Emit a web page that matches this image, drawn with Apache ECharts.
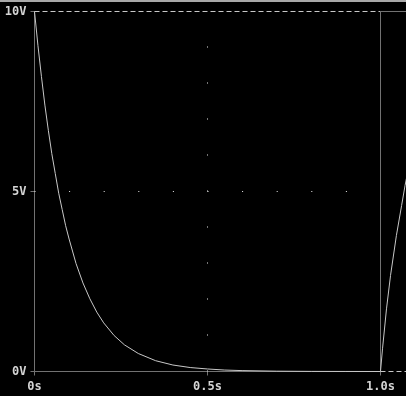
<!DOCTYPE html>
<html>
<head>
<meta charset="utf-8">
<script src="https://cdn.jsdelivr.net/npm/echarts@6/dist/echarts.min.js"></script>
<style>
html,body{margin:0;padding:0;background:#000;}
#chart{width:406px;height:396px;}
</style>
</head>
<body>
<div id="chart"></div>
<script>
// Time (s) and voltage (V)
const timeS = [0, 0.01, 0.02, 0.03, 0.04, 0.05, 0.06, 0.07, 0.08, 0.09, 0.10,
  0.12, 0.14, 0.16, 0.18, 0.20, 0.23, 0.26, 0.30, 0.35, 0.40, 0.45, 0.50,
  0.55, 0.60, 0.70, 0.80, 0.90, 1.00,
  1.0058, 1.0173, 1.029, 1.046, 1.061, 1.071, 1.08];
const voltV = [10, 9.05, 8.2, 7.4, 6.7, 6.05, 5.5, 4.95, 4.5, 4.05, 3.68,
  3.0, 2.46, 2.02, 1.65, 1.35, 1.0, 0.74, 0.50, 0.30, 0.18, 0.11, 0.07,
  0.04, 0.025, 0.009, 0.003, 0.001, 0,
  0.63, 1.74, 2.67, 3.78, 4.61, 5.17, 5.6];
const xTickLabels = ['0s', '0.5s', '1.0s'];
const yTickLabels = ['0V', '5V', '10V'];
const xMin = 0, xMax = 1.0737, xInterval = 0.5, xFrameEnd = 1.0;
const yMin = 0, yMax = 10, yInterval = 5;

const axisGrey = '#727272';
const lightGrey = '#c8c8c8';
const textGrey = '#d4d4d4';
const font = '"DejaVu Sans Mono", monospace';

const chart = echarts.init(document.getElementById('chart'), null, {renderer: 'canvas'});
const xLabelMap = {}; xTickLabels.forEach((l, i) => xLabelMap[(xMin + i * xInterval).toFixed(2)] = l);
const yLabelMap = {}; yTickLabels.forEach((l, i) => yLabelMap[String(yMin + i * yInterval)] = l);

const noSym = ['none', 'none'];
chart.setOption({
  backgroundColor: '#000',
  animation: false,
  graphic: [{type: 'rect', left: 0, top: 0, shape: {width: 406, height: 2}, style: {fill: '#a8a8a8'}, silent: true}],
  grid: {left: 34.5, right: 0, top: 11.5, bottom: 24.5},
  xAxis: {
    type: 'value', min: xMin, max: xMax, interval: xInterval,
    axisLine: {show: false},
    axisTick: {show: true, length: 4, lineStyle: {color: axisGrey}},
    splitLine: {show: false},
    axisLabel: {
      color: textGrey, fontFamily: font, fontSize: 12, fontWeight: 'bold', margin: 9,
      showMaxLabel: false,
      formatter: v => xLabelMap[v.toFixed(2)] || ''
    }
  },
  yAxis: {
    type: 'value', min: yMin, max: yMax, interval: yInterval,
    axisLine: {show: true, lineStyle: {color: axisGrey, width: 1}},
    axisTick: {show: true, length: 4, lineStyle: {color: axisGrey}},
    splitLine: {show: false},
    axisLabel: {
      color: textGrey, fontFamily: font, fontSize: 12, fontWeight: 'bold', margin: 8,
      formatter: v => yLabelMap[String(v)] || ''
    }
  },
  series: [{
    type: 'line',
    data: timeS.map((t, i) => [t, voltV[i]]),
    showSymbol: false,
    symbol: 'none',
    clip: true,
    lineStyle: {color: lightGrey, width: 1},
    z: 5,
    markLine: {
      silent: true, symbol: noSym, animation: false,
      label: {show: false},
      data: [
        [{coord: [xMin, yMin], lineStyle: {color: axisGrey, width: 1, type: 'solid'}}, {coord: [xFrameEnd, yMin]}],
        [{coord: [xMin, yMax], lineStyle: {color: lightGrey, width: 1, type: [5, 3]}}, {coord: [xFrameEnd, yMax]}],
        [{coord: [xFrameEnd, yMax], lineStyle: {color: axisGrey, width: 1, type: 'solid'}}, {coord: [xMax, yMax]}],
        [{coord: [xFrameEnd, yMin], lineStyle: {color: lightGrey, width: 1, type: [5, 3]}}, {coord: [xMax, yMin]}],
        [{coord: [xFrameEnd, yMin], lineStyle: {color: axisGrey, width: 1, type: 'solid'}}, {coord: [xFrameEnd, yMax]}],
        [{coord: [xMin, 5], lineStyle: {color: '#e8e8e8', width: 1, type: [1, 33.6]}}, {coord: [xFrameEnd, 5]}],
        [{coord: [0.5, yMin], lineStyle: {color: '#e8e8e8', width: 1, type: [1, 35]}}, {coord: [0.5, yMax]}]
      ]
    }
  }]
});
</script>
</body>
</html>
